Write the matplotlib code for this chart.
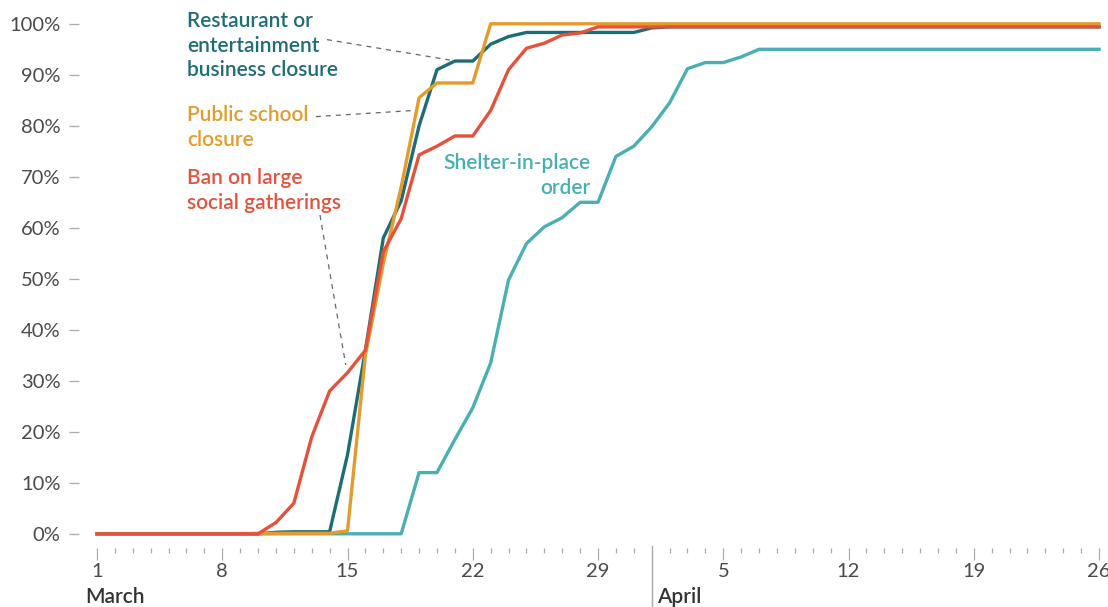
import numpy as np
import matplotlib.pyplot as plt

plt.rcParams['font.family'] = ['Lato', 'DejaVu Sans']

# one value per day, March 1 .. April 26 (share of states, %)
days = np.arange(57)

restaurant = [0, 0, 0, 0, 0, 0, 0, 0, 0, 0,
              0.3, 0.4, 0.4, 0.4, 15.5, 36, 58, 65.3, 80, 91,
              92.7, 92.7, 96, 97.5, 98.3, 98.3, 98.3, 98.3, 98.3, 98.3,
              98.3, 99.2] + [99.4] * 25
school = [0, 0, 0, 0, 0, 0, 0, 0, 0, 0.1,
          0.1, 0.1, 0.1, 0.1, 0.6, 35, 53, 68, 85.5, 88.4,
          88.4, 88.4, 100] + [100] * 34
ban = [0, 0, 0, 0, 0, 0, 0, 0, 0, 0,
       2.2, 6, 19, 28, 31.6, 36, 55.3, 61.8, 74.3, 76,
       78, 78, 83, 91, 95.2, 96.2, 97.8, 98.2, 99.4] + [99.4] * 28
shelter = [0] * 18 + [12, 12, 18.5, 24.7, 33.5, 49.8, 56.9, 60.2, 62, 65,
                      65, 74, 76, 79.8, 84.5, 91.2, 92.4, 92.4, 93.5] + [95] * 20

major_days = [0, 7, 14, 21, 28, 35, 42, 49, 56]
major_labels = ['1', '8', '15', '22', '29', '5', '12', '19', '26']
y_ticks = list(range(0, 101, 10))

C_REST = '#1e6d76'
C_SCHOOL = '#e59b2b'
C_BAN = '#e5513b'
C_SHELTER = '#4aafb1'

fig = plt.figure(figsize=(11.08, 6.07), dpi=100)
ax = fig.add_axes([97 / 1108, 63 / 607, 1011 / 1108, 530.4 / 607])

lw = 2.4
ax.plot(days, shelter, color=C_SHELTER, lw=lw, clip_on=False)
ax.plot(days, restaurant, color=C_REST, lw=lw, clip_on=False)
ax.plot(days, school, color=C_SCHOOL, lw=lw, clip_on=False)
ax.plot(days, ban, color=C_BAN, lw=lw, clip_on=False)

ax.set_xlim(0, 56.5)
ax.set_ylim(-2, 102)

for s in ['top', 'right']:
    ax.spines[s].set_visible(False)
ax.spines['left'].set_position(('outward', 13))
ax.spines['left'].set_visible(False)
ax.spines['bottom'].set_position(('outward', 3))
ax.spines['bottom'].set_visible(False)

ax.set_yticks(y_ticks)
ax.set_yticklabels([f'{v}%' for v in y_ticks])
ax.tick_params(axis='y', length=7.2, width=0.9, color='#aaaaaa', pad=6,
               labelsize=14.5, labelcolor='#4a4a4a')

ax.set_xticks(major_days)
ax.set_xticklabels(major_labels)
ax.set_xticks([d for d in days if d not in major_days and d != 31], minor=True)
ax.tick_params(axis='x', which='major', length=8.5, width=0.9, color='#aaaaaa',
               pad=2, labelsize=14.5, labelcolor='#4a4a4a')
ax.tick_params(axis='x', which='minor', length=3.6, width=0.9, color='#aaaaaa')

# month labels and separator
xt = ax.get_xaxis_transform()
ax.plot([31, 31], [-0.004, -0.125], transform=xt, color='#aaaaaa', lw=1, clip_on=False)
ax.text(-0.67, -0.111, 'March', transform=xt, fontsize=15, fontweight='semibold',
        color='#333333', va='baseline', ha='left')
ax.text(31.3, -0.111, 'April', transform=xt, fontsize=15, fontweight='semibold',
        color='#333333', va='baseline', ha='left')

# series labels (baseline = last line)
lab_kw = dict(fontsize=15, fontweight='semibold', va='baseline', linespacing=1.3)
ax.text(5.03, 89.7, 'Restaurant or\nentertainment\nbusiness closure', color=C_REST,
        ha='left', **lab_kw)
ax.text(5.03, 76.1, 'Public school\nclosure', color=C_SCHOOL, ha='left', **lab_kw)
ax.text(5.03, 63.7, 'Ban on large\nsocial gatherings', color=C_BAN, ha='left', **lab_kw)
ax.text(27.6, 66.7, 'Shelter-in-place\norder', color=C_SHELTER, ha='right',
        multialignment='right', **lab_kw)

# leader lines
lead_kw = dict(color='#666666', lw=0.9, ls=(0, (4, 4)))
ax.plot([12.85, 19.72], [96.9, 92.9], **lead_kw)
ax.plot([12.23, 17.65], [81.8, 83.0], **lead_kw)
ax.plot([12.46, 13.9], [62.5, 33.1], **lead_kw)

fig.savefig('out.png', dpi=100)
